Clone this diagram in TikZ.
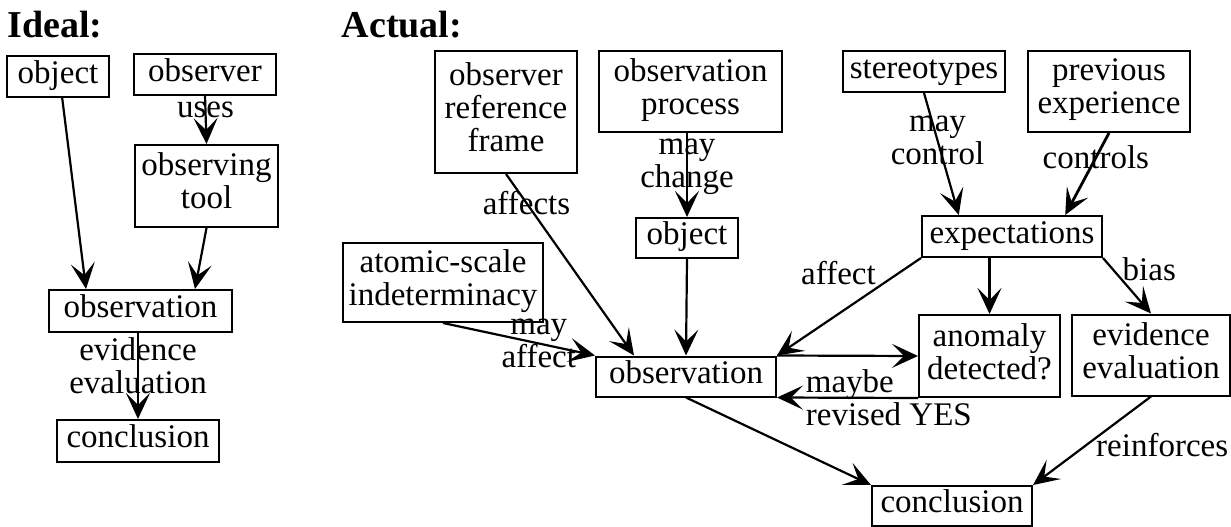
\documentclass[tikz,border=0pt]{standalone}
\usepackage{fontspec}
\setmainfont{Liberation Serif}
\usetikzlibrary{arrows.meta}

\begin{document}
\begin{tikzpicture}[x=1pt, y=-1pt,
    box/.style={draw, rectangle, line width=2pt, inner xsep=3pt, inner ysep=0pt, align=center,
        font=\fontsize{33}{33}\selectfont, execute at begin node=\strut, execute at end node=\strut},
    lbl/.style={align=center, inner sep=1pt, font=\fontsize{33}{33}\selectfont},
    arr/.style={-{Stealth[length=26pt, width=24pt, inset=12pt]}, line width=2.2pt},
    heading/.style={font=\fontsize{38}{40}\selectfont\bfseries, inner sep=0pt}]
    \useasboundingbox (0,0) rectangle (1231,527);

    % ideal
    \node[heading] (ideal) at (55,25) {Ideal:};
    \node[box, minimum width=102pt, minimum height=41pt] (iobject) at (58,76.5) {object};
    \node[box, minimum width=142pt, minimum height=40pt] (iobserver) at (205,74.5) {observer};
    \node[box, minimum width=143pt, minimum height=82pt] (itool) at (206.5,186) {observing\\tool};
    \node[box, minimum width=183pt, minimum height=42pt] (iobservation) at (140.5,311) {observation};
    \node[box, minimum width=162pt, minimum height=42pt] (iconclusion) at (138,441) {conclusion};

    \draw[arr] (iobject.-79) -- (iobservation.158);
    \draw[arr] (iobserver.south) -- node[lbl, pos=0.3] {uses} (itool.north);
    \draw[arr] (itool.south) -- (iobservation.22);
    \draw[arr] (iconclusion.north |- iobservation.south) -- node[lbl, pos=0.38] {evidence\\evaluation} (iconclusion.north);

    % actual
    \node[heading] (actual) at (402,25) {Actual:};
    \node[box, minimum width=142pt, minimum height=122pt] (frame) at (506,112) {observer\\reference\\frame};
    \node[box, minimum width=183pt, minimum height=81pt] (process) at (690.5,91.5) {observation\\process};
    \node[box, minimum width=162pt, minimum height=41pt] (stereo) at (924,71.5) {stereotypes};
    \node[box, minimum width=162pt, minimum height=81pt] (previous) at (1109,91.5) {previous\\experience};
    \node[box, minimum width=102pt, minimum height=40pt] (object) at (687,238) {object};
    \node[box, minimum width=180pt, minimum height=41pt] (expect) at (1012,236.5) {expectations};
    \node[box, minimum width=200pt, minimum height=79pt] (atomic) at (443,282.5) {atomic-scale\\indeterminacy};
    \node[box, minimum width=180pt, minimum height=40pt] (observation) at (686,376.5) {observation};
    \node[box, minimum width=141pt, minimum height=82pt] (anomaly) at (989.5,356) {anomaly\\detected?};
    \node[box, minimum width=158pt, minimum height=81pt] (evidence) at (1151,355) {evidence\\evaluation};
    \node[box, minimum width=160pt, minimum height=40pt] (conclusion) at (952,506) {conclusion};

    \draw[arr] (object.north |- process.south) -- node[lbl, pos=0.4] {may\\change} (object.north);
    \draw[arr] (frame.south) -- node[lbl, pos=0.16] {affects} (observation.158);
    \draw[arr] (object.south) -- (observation.north);
    \draw[arr] (atomic.south) -- node[lbl, pos=0.63] {may\\affect} (observation.north west);
    \draw[arr] (stereo.south) -- node[lbl, pos=0.39] {may\\control} (expect.158);
    \draw[arr, line width=2.8pt] (previous.south) -- node[lbl, pos=0.3] {controls} (expect.22);
    \draw[arr] (anomaly.north |- expect.south) -- (anomaly.north);
    \draw[arr] (expect.south west) -- node[lbl, pos=0.3, anchor=south east] {affect} (observation.north east);
    \draw[arr] (expect.south east) -- node[lbl, pos=0.2, anchor=west, xshift=8pt] {bias} (evidence.north);
    \draw[arr] (observation.north east) -- (anomaly.west);
    \draw[arr] (anomaly.south west) -- node[lbl, pos=0.81, anchor=west, align=left] {maybe\\revised YES} (observation.south east);
    \draw[arr] (observation.south) -- (conclusion.north west);
    \draw[arr] (evidence.south) -- node[lbl, pos=0.55, anchor=west, xshift=8pt] {reinforces} (conclusion.north east);
\end{tikzpicture}
\end{document}
